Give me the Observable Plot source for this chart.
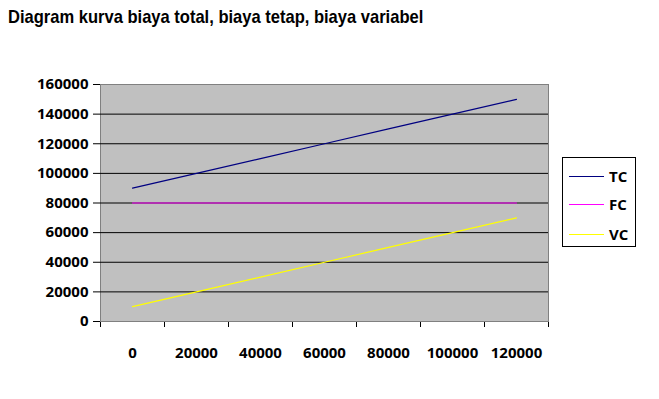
<!DOCTYPE html>
<html>
<head>
<meta charset="utf-8">
<script src="https://cdn.jsdelivr.net/npm/d3@7"></script>
<script src="https://cdn.jsdelivr.net/npm/@observablehq/plot@0.6"></script>
<style>
  html, body { margin: 0; padding: 0; background: white; }
  #wrap { position: relative; width: 659px; height: 399px; overflow: hidden; }
  #title { height: 50px; margin: 0; padding: 6px 0 0 8px; box-sizing: border-box; }
  #title span { display: inline-block; transform: scaleX(0.87); transform-origin: left center;
    font-family: "Liberation Sans", Arial, sans-serif;
    font-weight: bold; font-size: 19px; line-height: 22px; color: black; white-space: nowrap; }
  #legend { position: absolute; left: 562px; top: 157px; width: 74px; height: 90px;
    box-sizing: border-box; border: 1px solid black; background: white;
    font-family: "Open Sans", sans-serif; font-weight: bold; font-size: 15px; }
  .row { position: absolute; left: 0; height: 20px; width: 72px; }
  .row svg { position: absolute; left: 6px; top: 0; }
  .row span { position: absolute; left: 46px; top: 0; line-height: 20px; }
</style>
</head>
<body>
<div id="wrap">
  <div id="title"><span>Diagram kurva biaya total, biaya tetap, biaya variabel</span></div>
  <div id="chart"></div>
  <div id="legend"></div>
</div>
<script>
const categories = ["0", "20000", "40000", "60000", "80000", "100000", "120000"];
const tcValues = [90000, 100000, 110000, 120000, 130000, 140000, 150000];
const fcValues = [80000, 80000, 80000, 80000, 80000, 80000, 80000];
const vcValues = [10000, 20000, 30000, 40000, 50000, 60000, 70000];
const yTicks = [0, 20000, 40000, 60000, 80000, 100000, 120000, 140000, 160000];
const seriesNames = ["TC", "FC", "VC"];
const seriesColors = ["#000080", "#FF00FF", "#FFFF00"];

const seriesValues = [tcValues, fcValues, vcValues];
const rows = [];
seriesNames.forEach((s, k) => {
  categories.forEach((c, i) => rows.push({series: s, i, cat: c, value: seriesValues[k][i]}));
});
const boundaries = d3.range(categories.length + 1).map(i => i - 0.5);

const chart = Plot.plot({
  width: 659,
  height: 349,
  marginLeft: 100,
  marginRight: 111,
  marginTop: 34,
  marginBottom: 78,
  style: {fontFamily: "Open Sans, sans-serif", fontSize: "15px", fontWeight: "bold", color: "black", background: "white"},
  x: {type: "linear", domain: [-0.5, categories.length - 0.5], ticks: boundaries, tickFormat: () => "", tickSize: 6, label: null, line: true},
  y: {domain: [0, 160000], ticks: yTicks, tickFormat: d3.format("d"), tickSize: 7, tickPadding: 5, label: null, line: true},
  color: {domain: seriesNames, range: seriesColors},
  marks: [
    Plot.frame({fill: "#C0C0C0", stroke: "#808080"}),
    Plot.ruleY(yTicks.filter(d => d > 0 && d < 160000), {stroke: "black", strokeWidth: 1}),
    Plot.line(rows, {x: "i", y: "value", z: "series", stroke: "series", strokeWidth: 1.2}),
    Plot.text(categories, {x: (d, i) => i, y: () => 0, text: d => d, dy: 32, fill: "black"})
  ]
});
document.getElementById("chart").appendChild(chart);

const legend = document.getElementById("legend");
const rowTops = [8, 36, 66];
seriesNames.forEach((s, k) => {
  const r = document.createElement("div");
  r.className = "row";
  r.style.top = rowTops[k] + "px";
  r.innerHTML = `<svg width="36" height="20"><line x1="0" x2="35" y1="10.5" y2="10.5" stroke="${seriesColors[k]}" stroke-width="1.2"/></svg><span>${s}</span>`;
  legend.appendChild(r);
});
</script>
</body>
</html>
